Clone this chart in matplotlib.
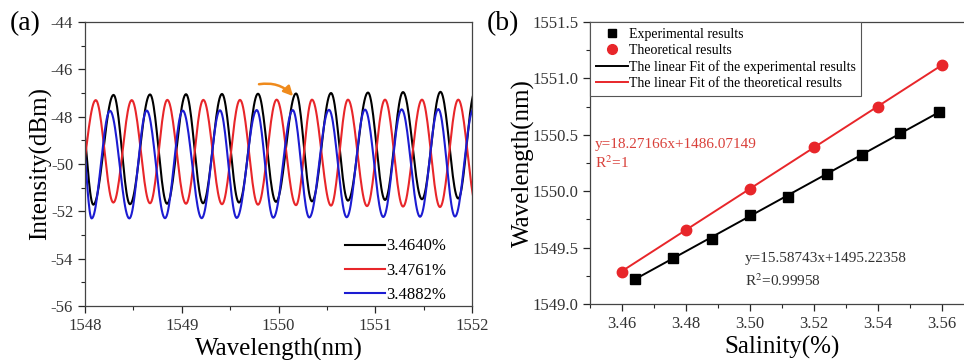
import numpy as np
import matplotlib
matplotlib.use('Agg')
import matplotlib.pyplot as plt
from matplotlib.ticker import MultipleLocator

plt.rcParams['font.family'] = ['Liberation Serif', 'DejaVu Serif']
plt.rcParams['mathtext.fontset'] = 'stix'
plt.rcParams['axes.unicode_minus'] = False

# (a) transmission spectra: fringe peaks / troughs
black_peak_wl = [1547.938, 1548.295, 1548.672, 1549.044, 1549.416, 1549.788,
                 1550.181, 1550.543, 1550.925, 1551.287, 1551.674, 1552.031]
black_peak_db = [-47.10, -47.08, -47.06, -47.05, -47.04, -47.03,
                 -47.02, -47.00, -46.98, -46.96, -46.95, -46.95]
black_trough_wl = [1548.086, 1548.465, 1548.848, 1549.220, 1549.592, 1549.974,
                   1550.346, 1550.718, 1551.101, 1551.483, 1551.858]
black_trough_db = [-51.72, -51.70, -51.68, -51.66, -51.63, -51.60,
                   -51.58, -51.55, -51.52, -51.49, -51.46]

red_peak_wl = [1548.111, 1548.483, 1548.851, 1549.223, 1549.602, 1549.981,
               1550.346, 1550.718, 1551.101, 1551.483, 1551.858]
red_peak_db = [-47.30, -47.30, -47.29, -47.29, -47.29, -47.28,
               -47.28, -47.28, -47.28, -47.28, -47.28]
red_trough_wl = [1547.907, 1548.293, 1548.672, 1549.044, 1549.416, 1549.788,
                 1550.181, 1550.543, 1550.915, 1551.287, 1551.669, 1552.052]
red_trough_db = [-51.60, -51.63, -51.66, -51.68, -51.70, -51.72,
                 -51.74, -51.76, -51.78, -51.80, -51.82, -51.84]

blue_peak_wl = [1547.946, 1548.258, 1548.638, 1549.010, 1549.395, 1549.775,
                1550.147, 1550.522, 1550.894, 1551.273, 1551.652, 1552.016]
blue_peak_db = [-47.75, -47.75, -47.74, -47.74, -47.73, -47.72,
                -47.72, -47.71, -47.70, -47.69, -47.68, -47.68]
blue_trough_wl = [1548.069, 1548.458, 1548.827, 1549.206, 1549.568, 1549.946,
                  1550.318, 1550.705, 1551.083, 1551.463, 1551.824]
blue_trough_db = [-52.30, -52.30, -52.29, -52.29, -52.28, -52.27,
                  -52.26, -52.25, -52.24, -52.23, -52.22]

spectra_labels = ['3.4640%', '3.4761%', '3.4882%']

# (b) dip wavelength vs salinity
exp_salinity = [3.464, 3.476, 3.488, 3.500, 3.512, 3.524, 3.535, 3.547, 3.559]
exp_wavelength = [1549.219, 1549.410, 1549.579, 1549.786, 1549.951,
                  1550.150, 1550.321, 1550.513, 1550.699]
theo_salinity = [3.46, 3.48, 3.50, 3.52, 3.54, 3.56]
theo_wavelength = [1549.286, 1549.656, 1550.020, 1550.392, 1550.749, 1551.119]
exp_fit = (15.58743, 1495.22358)
theo_fit = (18.27166, 1486.07149)

RED = '#e8262a'
BLUE = '#1c1cd2'
TICKC = '#262626'


def fringe(peak_wl, peak_db, trough_wl, trough_db, n=24):
    # smooth cosine-shaped segments between consecutive extrema
    pts = sorted(zip(peak_wl + trough_wl, peak_db + trough_db))
    xs, ys = [], []
    for (x0, y0), (x1, y1) in zip(pts[:-1], pts[1:]):
        t = np.linspace(0, 1, n)
        xs.append(x0 + (x1 - x0) * t)
        ys.append(y0 + (y1 - y0) * (1 - np.cos(np.pi * t)) / 2)
    return np.concatenate(xs), np.concatenate(ys)


def style_axes(ax):
    for s in ax.spines.values():
        s.set_linewidth(0.9)
        s.set_color('#444444')
    ax.tick_params(which='both', direction='out', top=False, right=False,
                   colors=TICKC, labelsize=12)
    ax.tick_params(which='major', length=5, width=0.9)
    ax.tick_params(which='minor', length=3, width=0.8)
    for lab in ax.get_xticklabels() + ax.get_yticklabels():
        lab.set_color('#333333')


fig = plt.figure(figsize=(9.64, 3.6), dpi=100)

# ---------------- panel (a)
ax1 = fig.add_axes([85 / 964, 54 / 360, 387 / 964, 284 / 360])
x, y = fringe(black_peak_wl, black_peak_db, black_trough_wl, black_trough_db)
ax1.plot(x, y, color='black', lw=1.5, label=spectra_labels[0])
x, y = fringe(red_peak_wl, red_peak_db, red_trough_wl, red_trough_db)
ax1.plot(x, y, color=RED, lw=1.5, label=spectra_labels[1])
x, y = fringe(blue_peak_wl, blue_peak_db, blue_trough_wl, blue_trough_db)
ax1.plot(x, y, color=BLUE, lw=1.5, label=spectra_labels[2])

ax1.set_xlim(1548, 1552)
ax1.set_ylim(-56, -44)
ax1.xaxis.set_major_locator(MultipleLocator(1))
ax1.xaxis.set_minor_locator(MultipleLocator(0.5))
ax1.yaxis.set_major_locator(MultipleLocator(2))
ax1.yaxis.set_minor_locator(MultipleLocator(1))
style_axes(ax1)
ax1.set_xlabel('Wavelength(nm)', fontsize=18, labelpad=3)
ax1.set_ylabel('Intensity(dBm)', fontsize=18, labelpad=-1)

ax1.annotate('', xy=(1550.17, -47.22), xytext=(1549.77, -46.65),
             arrowprops=dict(arrowstyle='-|>', color='#ef8a1c', lw=1.8,
                             mutation_scale=14,
                             connectionstyle='arc3,rad=-0.3'))

ax1.legend(loc='lower right', bbox_to_anchor=(0.96, -0.025), frameon=False,
           fontsize=12, handlelength=2.4, handletextpad=0.1,
           labelspacing=0.5, borderaxespad=0.2)

fig.text(10 / 964, 1 - 24 / 360, '(a)', fontsize=20, va='center', ha='left')

# ---------------- panel (b)
ax2 = fig.add_axes([590 / 964, 56 / 360, 384 / 964, 282 / 360])
xs = np.array([exp_salinity[0], exp_salinity[-1]])
ax2.plot(xs, exp_fit[0] * xs + exp_fit[1], color='black', lw=1.4, zorder=2)
xs = np.array([theo_salinity[0], theo_salinity[-1]])
ax2.plot(xs, theo_fit[0] * xs + theo_fit[1], color=RED, lw=1.4, zorder=2)
ax2.plot(exp_salinity, exp_wavelength, 's', color='black', ms=6.5, zorder=3)
ax2.plot(theo_salinity, theo_wavelength, 'o', color=RED, ms=7.5, zorder=3)

ax2.set_xlim(3.45, 3.57)
ax2.set_ylim(1549.0, 1551.5)
ax2.xaxis.set_major_locator(MultipleLocator(0.02))
ax2.xaxis.set_minor_locator(MultipleLocator(0.01))
ax2.yaxis.set_major_locator(MultipleLocator(0.5))
ax2.yaxis.set_minor_locator(MultipleLocator(0.25))
ax2.xaxis.set_major_formatter(plt.FormatStrFormatter('%.2f'))
ax2.yaxis.set_major_formatter(plt.FormatStrFormatter('%.1f'))
style_axes(ax2)
ax2.set_xlabel('Salinity(%)', fontsize=18, labelpad=3)
ax2.set_ylabel('Wavelength(nm)', fontsize=18, labelpad=-2)

h1, = ax2.plot([], [], 's', color='black', ms=6)
h2, = ax2.plot([], [], 'o', color=RED, ms=7)
h3, = ax2.plot([], [], color='black', lw=1.4)
h4, = ax2.plot([], [], color=RED, lw=1.4)
leg = ax2.legend([h1, h2, h3, h4],
                 ['Experimental results', 'Theoretical results',
                  'The linear Fit of the experimental results',
                  'The linear Fit of the theoretical results'],
                 loc='upper left', bbox_to_anchor=(0, 1), borderaxespad=0,
                 fontsize=10, handlelength=2.3, handletextpad=0.1,
                 labelspacing=0.24, borderpad=0.4, fancybox=False,
                 numpoints=1, edgecolor='#555555', framealpha=1)
leg.get_frame().set_linewidth(0.8)

ax2.text(3.4515, 1550.41, 'y=%.5fx+%.5f' % theo_fit, color='#d9403a',
         fontsize=11, va='center')
ax2.text(3.4515, 1550.25, 'R$^2$=1', color='#d9403a', fontsize=11,
         va='center')
ax2.text(3.4985, 1549.40, 'y=%.5fx+%.5f' % exp_fit, color='#333333',
         fontsize=11, va='center')
ax2.text(3.4985, 1549.21, 'R$^2$=0.99958', color='#333333', fontsize=11,
         va='center')

fig.text(487 / 964, 1 - 24 / 360, '(b)', fontsize=20, va='center', ha='left')

fig.savefig('out.png', dpi=100)
